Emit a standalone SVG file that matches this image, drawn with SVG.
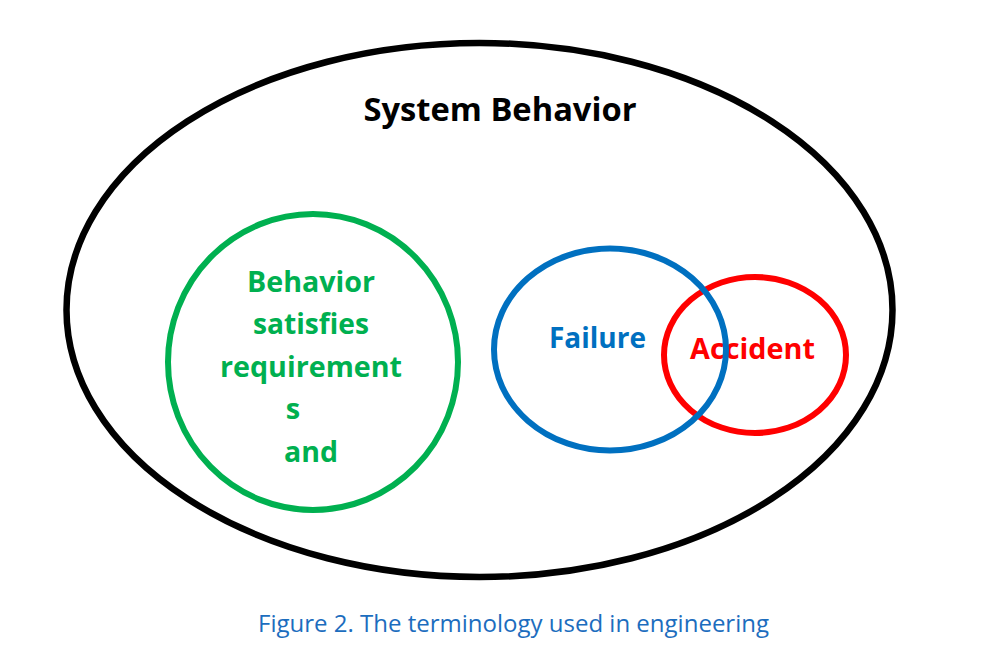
<svg xmlns="http://www.w3.org/2000/svg" width="999" height="648" viewBox="0 0 999 648">
<style>
.b{font-family:"Open Sans","Liberation Sans",sans-serif;font-weight:bold;text-anchor:middle}
.g{fill:#00B050;font-size:29px}
.sh{fill:none}
</style>
<rect width="999" height="648" fill="#fff"/>
<g id="system">
<ellipse class="sh" cx="479.5" cy="310" rx="413" ry="267" stroke="#000" stroke-width="6.5"/>
<text class="b" x="500" y="121" font-size="33" fill="#000" textLength="273" lengthAdjust="spacingAndGlyphs">System Behavior</text>
</g>
<g id="satisfies">
<ellipse class="sh" cx="313" cy="362" rx="145" ry="148" stroke="#00B050" stroke-width="6"/>
<text class="b g" x="311" y="292" textLength="128" lengthAdjust="spacingAndGlyphs">Behavior</text>
<text class="b g" x="311" y="334" textLength="116" lengthAdjust="spacingAndGlyphs">satisfies</text>
<text class="b g" x="311" y="377" textLength="182" lengthAdjust="spacingAndGlyphs">requirement</text>
<text class="b g" x="293" y="419">s</text>
<text class="b g" x="311" y="462" textLength="54" lengthAdjust="spacingAndGlyphs">and</text>
</g>
<g id="accident">
<ellipse class="sh" cx="755" cy="355" rx="91" ry="78" stroke="#FF0000" stroke-width="6"/>
<text class="b" x="752.5" y="359" font-size="29" fill="#FF0000" textLength="125" lengthAdjust="spacingAndGlyphs">Accident</text>
</g>
<g id="failure">
<ellipse class="sh" cx="610" cy="349.5" rx="116" ry="101" stroke="#0070C0" stroke-width="6"/>
<text class="b" x="597.5" y="348" font-size="29" fill="#0070C0" textLength="97" lengthAdjust="spacingAndGlyphs">Failure</text>
</g>
<g id="connectors"/>
<text x="513.5" y="632" font-family="'Open Sans','Liberation Sans',sans-serif" font-size="23" fill="#1C6DBE" text-anchor="middle" textLength="511" lengthAdjust="spacingAndGlyphs">Figure 2. The terminology used in engineering</text>
</svg>
